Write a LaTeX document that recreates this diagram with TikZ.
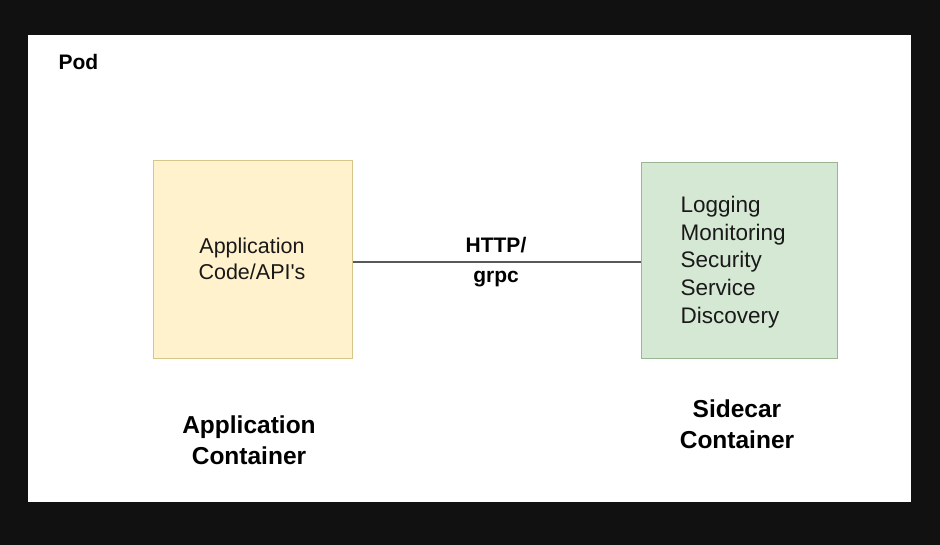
\documentclass[tikz,border=0pt]{standalone}
\usepackage{fontspec}
\setmainfont{Liberation Sans}[Ligatures=TeXOff]
\begin{document}
\begin{tikzpicture}[x=1pt,y=-1pt,
  box/.style={draw, line width=1.2pt, inner sep=0pt, anchor=north west},
  plain/.style={font=\fontsize{21.5}{26}\selectfont, align=center, text=black!90},
  bold/.style={font=\fontsize{24.5}{31}\selectfont\bfseries, align=center},
  lnk/.style={draw=black!65, line width=1.5pt}]
\definecolor{bgdark}{HTML}{111111}
\definecolor{yfill}{HTML}{FFF2CC}
\definecolor{ydraw}{HTML}{D6C68A}
\definecolor{gfill}{HTML}{D5E8D4}
\definecolor{gdraw}{HTML}{9AB592}
\fill[bgdark] (0,0) rectangle (940,545);
\useasboundingbox (0,0) rectangle (940,545);
\fill[white] (28,35) rectangle (911,502);
\node[font=\fontsize{21}{25}\selectfont\bfseries, anchor=west] (pod) at (55,62) {Pod};
\node[box, fill=yfill, draw=ydraw, minimum width=199pt, minimum height=198pt] (app) at (153,160) {};
\node[box, fill=gfill, draw=gdraw, minimum width=196pt, minimum height=196pt] (side) at (641,162) {};
\node[plain] (apptxt) at (252,259) {Application\\Code/API's};
\node[plain, font=\fontsize{22.5}{27.6}\selectfont, align=left, anchor=west] (sidetxt) at (677,262) {Logging\\Monitoring\\Security\\Service\\Discovery};
\draw[lnk] (app.east |- 0,262) coordinate (a1) -- (side.west |- 0,262) coordinate (a2);
\node[font=\fontsize{21}{30}\selectfont\bfseries, align=center] (proto) at (496,262) {HTTP/\\grpc};
\node[bold] (applbl) at (249,440) {Application\\Container};
\node[bold] (sidelbl) at (737,424) {Sidecar\\Container};
\end{tikzpicture}
\end{document}
